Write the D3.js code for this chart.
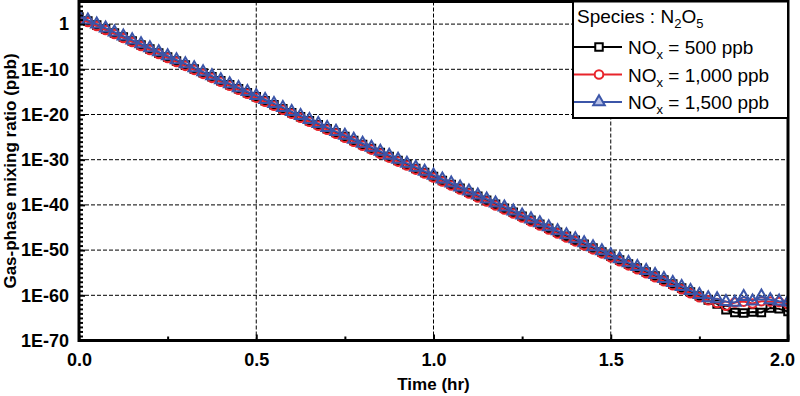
<!DOCTYPE html>
<html>
<head>
<meta charset="utf-8">
<script src="https://cdn.jsdelivr.net/npm/d3@7/dist/d3.min.js"></script>
<style>
    body { margin: 0; background: #fff; }
    svg { display: block; font-family: "Liberation Sans", Arial, sans-serif; }
</style>
</head>
<body>
<svg id="chart" width="800" height="396"></svg>
<script>
(function () {
    'use strict';

    // time axis (hr)
    var times = [
        0, 0.025, 0.05, 0.075, 0.1, 0.125, 0.15, 0.175, 0.2, 0.225,
        0.25, 0.275, 0.3, 0.325, 0.35, 0.375, 0.4, 0.425, 0.45, 0.475,
        0.5, 0.525, 0.55, 0.575, 0.6, 0.625, 0.65, 0.675, 0.7, 0.725,
        0.75, 0.775, 0.8, 0.825, 0.85, 0.875, 0.9, 0.925, 0.95, 0.975,
        1.0, 1.025, 1.05, 1.075, 1.1, 1.125, 1.15, 1.175, 1.2, 1.225,
        1.25, 1.275, 1.3, 1.325, 1.35, 1.375, 1.4, 1.425, 1.45, 1.475,
        1.5, 1.525, 1.55, 1.575, 1.6, 1.625, 1.65, 1.675, 1.7, 1.725,
        1.75, 1.775, 1.8, 1.825, 1.85, 1.875, 1.9, 1.925, 1.95, 1.975,
        2.0
    ];

    // log10 of gas-phase N2O5 mixing ratio (ppb)
    var nox500 = [
        1.55, 0.67, -0.21, -1.09, -1.98, -2.86, -3.74, -4.62, -5.50, -6.38,
        -7.26, -8.14, -9.03, -9.91, -10.79, -11.67, -12.55, -13.43, -14.31, -15.19,
        -16.08, -16.96, -17.84, -18.72, -19.60, -20.48, -21.36, -22.24, -23.13, -24.01,
        -24.89, -25.77, -26.65, -27.53, -28.41, -29.29, -30.18, -31.06, -31.94, -32.82,
        -33.70, -34.58, -35.46, -36.34, -37.23, -38.11, -38.99, -39.87, -40.75, -41.63,
        -42.51, -43.39, -44.28, -45.16, -46.04, -46.92, -47.80, -48.68, -49.56, -50.44,
        -51.33, -52.21, -53.09, -53.97, -54.85, -55.73, -56.61, -57.49, -58.38, -59.26,
        -60.14, -61.02, -61.9, -63.2, -63.8, -63.9, -63.7, -63.8, -62.8, -63.0,
        -63.6
    ];
    var nox1000 = [
        1.35, 0.47, -0.42, -1.30, -2.18, -3.06, -3.95, -4.83, -5.71, -6.59,
        -7.48, -8.36, -9.24, -10.12, -11.01, -11.89, -12.77, -13.65, -14.54, -15.42,
        -16.30, -17.18, -18.07, -18.95, -19.83, -20.71, -21.60, -22.48, -23.36, -24.24,
        -25.13, -26.01, -26.89, -27.77, -28.66, -29.54, -30.42, -31.30, -32.19, -33.07,
        -33.95, -34.83, -35.72, -36.60, -37.48, -38.36, -39.25, -40.13, -41.01, -41.89,
        -42.78, -43.66, -44.54, -45.42, -46.31, -47.19, -48.07, -48.95, -49.84, -50.72,
        -51.60, -52.48, -53.37, -54.25, -55.13, -56.01, -56.90, -57.78, -58.66, -59.54,
        -60.43, -61.1, -61.7, -62.3, -61.6, -61.4, -61.8, -61.3, -61.4, -61.5,
        -62.0
    ];
    var nox1500 = [
        1.75, 0.87, -0.01, -0.89, -1.77, -2.65, -3.53, -4.41, -5.29, -6.17,
        -7.05, -7.93, -8.81, -9.69, -10.57, -11.45, -12.33, -13.21, -14.09, -14.97,
        -15.85, -16.73, -17.61, -18.49, -19.37, -20.25, -21.13, -22.01, -22.89, -23.77,
        -24.65, -25.53, -26.41, -27.29, -28.17, -29.05, -29.93, -30.81, -31.69, -32.57,
        -33.45, -34.33, -35.21, -36.09, -36.97, -37.85, -38.73, -39.61, -40.49, -41.37,
        -42.25, -43.13, -44.01, -44.89, -45.77, -46.65, -47.53, -48.41, -49.29, -50.17,
        -51.05, -51.93, -52.81, -53.69, -54.57, -55.45, -56.33, -57.21, -58.09, -58.97,
        -59.85, -60.6, -60.8, -61.4, -61.6, -60.3, -61.3, -60.2, -61.0, -61.3,
        -61.5
    ];

    var seriesNames = ['NOx = 500 ppb', 'NOx = 1,000 ppb', 'NOx = 1,500 ppb'];
    var seriesLabels = [' = 500 ppb', ' = 1,000 ppb', ' = 1,500 ppb'];
    var seriesColors = ['#000000', '#e8242b', '#3b55a8'];
    var seriesMarkers = ['square', 'circle', 'triangle'];

    var xTicks = [0, 0.5, 1.0, 1.5, 2.0];
    var xTickLabels = ['0.0', '0.5', '1.0', '1.5', '2.0'];
    var xMinorTicks = [0.25, 0.75, 1.25, 1.75];
    var yTicks = [1, 1e-10, 1e-20, 1e-30, 1e-40, 1e-50, 1e-60, 1e-70];
    var yTickLabels = ['1', '1E-10', '1E-20', '1E-30', '1E-40', '1E-50', '1E-60', '1E-70'];

    var init = function (selector) {
        var svg = d3.select(selector);
        var left = 79, right = 788, top = 1.5, bottom = 340.5;

        var x = d3.scaleLinear().domain([0, 2]).range([left, right]);
        var y = d3.scaleLog().domain([1e-70, 1e5]).range([bottom, top]);

        var yMinor = [];
        for (var e = 4; e >= -69; e--) {
            if (e % 10 !== 0) yMinor.push(Math.pow(10, e));
        }

        // grid
        var grid = svg.append('g').attr('class', 'grid')
            .attr('stroke', '#000').attr('stroke-width', 1)
            .attr('stroke-dasharray', '4,2');
        grid.selectAll('.gx')
            .data(xTicks.slice(1, -1))
            .enter().append('line')
            .attr('x1', function (d) { return x(d); })
            .attr('x2', function (d) { return x(d); })
            .attr('y1', top).attr('y2', bottom);
        grid.selectAll('.gy')
            .data(yTicks.slice(0, -1))
            .enter().append('line')
            .attr('x1', left).attr('x2', right)
            .attr('y1', function (d) { return y(d); })
            .attr('y2', function (d) { return y(d); });

        // data
        svg.append('clipPath').attr('id', 'plotclip')
            .append('rect')
            .attr('x', left).attr('y', top)
            .attr('width', right - left).attr('height', bottom - top);

        var plot = svg.append('g').attr('clip-path', 'url(#plotclip)');
        var allSeries = [nox500, nox1000, nox1500];
        var line = d3.line()
            .x(function (d) { return x(d.t); })
            .y(function (d) { return y(d.v); });

        var symbolFor = function (kind) {
            if (kind === 'square') return d3.symbol().type(d3.symbolSquare).size(56)();
            if (kind === 'circle') return d3.symbol().type(d3.symbolCircle).size(58)();
            return d3.symbol().type(d3.symbolTriangle).size(58)();
        };

        allSeries.forEach(function (vals, si) {
            var pts = vals.map(function (v, i) {
                return { t: times[i], v: Math.pow(10, v) };
            });
            var g = plot.append('g').attr('class', 'series');
            g.append('path')
                .datum(pts)
                .attr('fill', 'none')
                .attr('stroke', seriesColors[si])
                .attr('stroke-width', 2)
                .attr('d', line);
            g.selectAll('.mk')
                .data(pts)
                .enter().append('path')
                .attr('class', 'mk')
                .attr('d', symbolFor(seriesMarkers[si]))
                .attr('transform', function (d) { return 'translate(' + x(d.t) + ',' + y(d.v) + ')'; })
                .attr('fill', 'none')
                .attr('stroke', seriesColors[si])
                .attr('stroke-width', 2);
        });

        // axes
        var xAxis = svg.append('g')
            .attr('transform', 'translate(0,' + bottom + ')')
            .call(d3.axisBottom(x)
                .tickValues(xTicks)
                .tickSize(-6)
                .tickPadding(13)
                .tickFormat(function (d, i) { return xTickLabels[i]; }));
        svg.append('g')
            .attr('transform', 'translate(0,' + bottom + ')')
            .call(d3.axisBottom(x).tickValues(xMinorTicks).tickSize(-4).tickFormat(''));

        var yAxis = svg.append('g')
            .attr('transform', 'translate(' + left + ',0)')
            .call(d3.axisLeft(y)
                .tickValues(yTicks)
                .tickSize(-6)
                .tickPadding(10)
                .tickFormat(function (d, i) { return yTickLabels[i]; }));
        svg.append('g')
            .attr('transform', 'translate(' + left + ',0)')
            .call(d3.axisLeft(y).tickValues(yMinor).tickSize(-4).tickFormat(''));

        svg.selectAll('.domain').remove();
        svg.selectAll('.tick line').attr('stroke', '#000').attr('stroke-width', 2);
        [xAxis, yAxis].forEach(function (a) {
            a.selectAll('text')
                .attr('fill', '#000')
                .style('font-size', '18px')
                .style('font-weight', 'bold')
                .style('font-family', '"Liberation Sans", Arial, sans-serif');
        });
        xAxis.select('.tick:last-of-type text').attr('dx', '-6');

        // frame
        svg.append('rect')
            .attr('x', left).attr('y', top)
            .attr('width', right - left).attr('height', bottom - top)
            .attr('fill', 'none').attr('stroke', '#000').attr('stroke-width', 3);

        // axis titles
        svg.append('text')
            .attr('x', x(1)).attr('y', 390)
            .attr('text-anchor', 'middle')
            .style('font-size', '17px').style('font-weight', 'bold')
            .text('Time (hr)');
        svg.append('text')
            .attr('transform', 'translate(16,' + ((top + bottom) / 2) + ') rotate(-90)')
            .attr('text-anchor', 'middle')
            .style('font-size', '17px').style('font-weight', 'bold')
            .text('Gas-phase mixing ratio (ppb)');

        // legend
        var lg = svg.append('g').attr('class', 'legend');
        lg.append('rect')
            .attr('x', 573).attr('y', top)
            .attr('width', right - 573).attr('height', 118 - top)
            .attr('fill', '#fff').attr('stroke', '#000').attr('stroke-width', 2);
        var title = lg.append('text')
            .attr('x', 577).attr('y', 23)
            .style('font-size', '19px');
        title.append('tspan').text('Species : N');
        title.append('tspan').attr('dy', 5).style('font-size', '13px').text('2');
        title.append('tspan').attr('dy', -5).text('O');
        title.append('tspan').attr('dy', 5).style('font-size', '13px').text('5');

        seriesNames.forEach(function (name, si) {
            var cy = 47 + si * 27.5;
            var row = lg.append('g').attr('class', 'entry');
            row.append('line')
                .attr('x1', 574).attr('x2', 622)
                .attr('y1', cy).attr('y2', cy)
                .attr('stroke', seriesColors[si]).attr('stroke-width', 2);
            row.append('path')
                .attr('d', symbolFor(seriesMarkers[si]))
                .attr('transform', 'translate(599,' + cy + ')')
                .attr('fill', seriesMarkers[si] === 'triangle' ? '#b7c0e6' : '#fff')
                .attr('stroke', seriesColors[si]).attr('stroke-width', 2);
            var t = row.append('text')
                .attr('x', 628).attr('y', cy + 7)
                .style('font-size', '19px');
            t.append('tspan').text('NO');
            t.append('tspan').attr('dy', 5).style('font-size', '13px').text('x');
            t.append('tspan').attr('dy', -5).text(seriesLabels[si]);
        });
    };

    document.addEventListener('DOMContentLoaded', function () { return init('#chart'); }, false);
}());
</script>
</body>
</html>
